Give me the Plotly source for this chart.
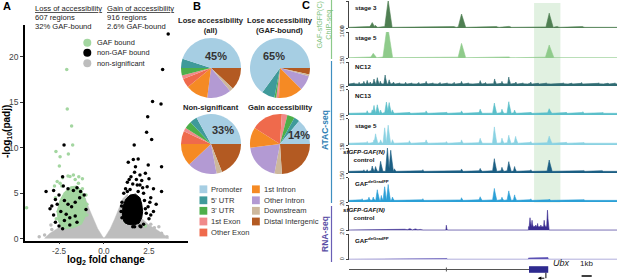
import numpy as np
import plotly.graph_objects as go

W, H = 617, 280
FONT = "Liberation Sans, Arial, sans-serif"


def X(px):
    return px / W


def Y(py):
    return 1 - py / H


# ---------------- Panel A: volcano data ----------------
nonsig_poly_x = [-3.3, -3.0, -2.6, -2.2, -1.8, -1.5, -1.25, -1.05, -0.85, -0.6, -0.35, -0.1, 0.0,
                 0.1, 0.35, 0.6, 0.85, 1.05, 1.3, 1.6, 2.0, 2.5, 3.0, 3.4, 3.6]
nonsig_poly_y = [0.05, 0.6, 1.1, 1.6, 2.4, 3.4, 4.6, 4.5, 3.4, 2.2, 1.1, 0.3, 0.05,
                 0.3, 1.1, 2.2, 3.4, 4.4, 4.9, 3.6, 2.4, 1.5, 0.9, 0.3, 0.05]
nonsig_pts_x = [-3.3, -2.9, 3.2, 3.5, 2.8, -3.6, 2.6, -2.95, 3.05]
nonsig_pts_y = [0.4, 1.0, 0.6, 0.2, 1.2, 0.2, 1.6, 1.5, 1.3]

gaf_poly_x = [-2.3, -2.55, -2.6, -2.45, -2.2, -1.85, -1.5, -1.25, -1.05, -0.95, -1.05, -1.25, -1.7]
gaf_poly_y = [1.1, 2.0, 3.0, 4.2, 5.1, 5.7, 5.8, 5.3, 4.4, 3.4, 2.4, 1.6, 1.2]
gaf_pts_x = [-2.07, -2.04, -1.80, -1.74, -2.67, -2.44, -1.98, -2.48, -2.44, -1.89, -1.60, -1.42,
             -1.20, -1.10, -4.30, -2.6, -2.3, -2.0, -1.7, -1.4, -1.2, -2.75, -2.55, -1.05, -0.95,
             -1.3, 1.1, 1.3, 1.6, 1.9, 1.2, 2.3, 1.45, -2.7, -2.65, -1.0, -0.95, -2.35]
gaf_pts_y = [18.6, 14.25, 12.4, 10.3, 9.6, 9.0, 9.3, 8.0, 6.1, 6.85, 6.5, 6.1,
             5.5, 4.0, 3.4, 6.3, 6.7, 6.9, 7.0, 6.8, 6.6, 5.8, 3.0, 3.2, 2.6,
             1.9, 3.0, 2.5, 2.0, 2.2, 1.9, 1.4, 2.9, 4.5, 2.2, 4.8, 3.8, 5.8]

nongaf_poly_x = [1.1, 1.02, 1.05, 1.2, 1.45, 1.75, 2.0, 2.1, 2.15, 2.1, 1.95, 1.65, 1.3]
nongaf_poly_y = [1.9, 2.6, 3.5, 4.3, 4.8, 4.9, 4.5, 3.8, 3.0, 2.3, 1.7, 1.5, 1.6]
nongaf_pts_x = [3.57, 3.26, 2.70, 3.17, 2.43, 2.37, 2.65, 1.68, 1.35, 1.63, 1.90, 2.46, 3.20, 1.75,
                1.70, 2.00, 2.30, 1.50, 1.80, 2.10, 2.50, 1.30, 1.60, 2.00, 2.40, 2.75, 3.20, 1.20,
                1.45, 1.90, 2.20, 2.60, 2.90, 2.45, 2.35, 2.50, 2.20, 1.00, 0.95, 1.00, 2.00, 1.60,
                2.75, 1.1, 2.6, 2.15, 1.4, 1.85, 2.55, 2.25, 2.3, 1.25, 0.98, 2.05, 1.7, 1.3,
                -2.22, -2.30, -3.22, -2.80, -2.26, -2.00, -1.70, -1.50, -1.30, -2.50, -2.70, -2.90,
                -3.00, -2.60, -2.20, -2.00, -1.80, -1.60, -1.35, -1.10, -2.40, -2.10, -1.90, -1.60,
                -2.20, -2.70, -2.50, -2.30, -1.50, -1.90, -2.80, -1.0]
nongaf_pts_y = [22.5, 18.6, 15.1, 14.8, 13.4, 11.7, 10.9, 10.3, 8.4, 8.7, 8.75, 8.1, 7.9, 7.9,
                7.3, 7.0, 7.2, 6.8, 6.5, 6.4, 6.6, 6.2, 6.0, 5.9, 5.7, 5.5, 5.2, 5.5,
                5.4, 5.2, 5.0, 4.5, 3.8, 3.5, 2.8, 2.2, 1.6, 4.0, 3.0, 2.3, 1.4, 1.3,
                3.0, 5.0, 2.6, 5.6, 6.5, 5.9, 4.0, 4.2, 3.3, 1.8, 3.6, 1.3, 1.3, 5.2,
                10.3, 6.8, 5.2, 5.3, 5.8, 5.5, 5.3, 5.6, 5.2, 4.8, 4.3, 3.6,
                3.3, 3.8, 4.2, 3.8, 3.5, 4.0, 4.5, 4.8, 3.0, 2.7, 2.3, 2.5,
                2.0, 1.8, 1.4, 1.1, 1.8, 1.5, 2.6, 3.2]

x_ticks = [-2.5, 0.0, 2.5]
x_ticktext = ["-2.5", "0.0", "2.5"]
y_ticks = [0, 5, 10, 15, 20]

# ---------------- Panel B: pie data ----------------
features = ["Promoter", "5' UTR", "3' UTR", "1st Exon", "Other Exon",
            "1st Intron", "Other Intron", "Downstream", "Distal Intergenic"]
feature_colors = ["#a6cee3", "#3f9a9a", "#4daf4a", "#f08a8a", "#ef6a4c",
                  "#f58a24", "#b39ad3", "#cdb89c", "#b35a22"]
pie_lose_all = [45, 5, 4, 2, 5, 12, 13, 2, 12]
pie_lose_gaf = [65, 7, 1, 1, 0.5, 13, 8, 1, 3.5]
pie_nonsig = [33, 4, 4, 2, 7, 12, 16, 3, 19]
pie_gain = [14, 3, 4, 3, 17, 11, 20, 4, 24]
pie_titles = ["Lose accessibility<br>(all)", "Lose accessibility<br>(GAF-bound)",
              "Non-significant", "Gain accessibility"]
pie_pct = ["45%", "65%", "33%", "14%"]

# ---------------- Panel C: genome tracks (kb positions, peak heights) ----------------
track_names = ["stage 3", "stage 5", "NC12", "NC13", "stage 5",
               "<i>sfGFP-GAF(N)</i><br>control", "GAF<sup>deGradFP</sup>",
               "<i>sfGFP-GAF(N)</i><br>control", "GAF<sup>deGradFP</sup>"]
track_max = [200, 1000, 15, 15, 15, 15, 15, 2, 2]
track_colors = ["#4f7f52", "#8fcb8b", "#2f6b72", "#5bbfca", "#8ad2e2",
                "#1b5e83", "#2ba0d6", "#3a2c91", "#5c52b5"]
track_base = [5, 12, 1.3, 1.0, 1.0, 1.0, 1.0, 0.04, 0.02]

t1_pos = [1.3, 2.0, 2.3, 2.6, 3.87, 5.0, 6.3, 7.5, 9.0, 10.4, 11.13, 12.2, 13.5, 14.6, 15.8, 16.6,
          17.5, 19.8, 20.6, 22.0, 23.1, 24.5, 25.6]
t1_val = [10, 14, 40, 20, 210, 10, 9, 10, 8, 12, 105, 10, 9, 12, 15, 10, 8, 110, 12, 9, 12, 8, 10]
t1_wid = [0.2, 0.25, 0.3, 0.2, 0.35, 0.2, 0.2, 0.2, 0.2, 0.2, 0.35, 0.2, 0.2, 0.2, 0.25, 0.2,
          0.2, 0.35, 0.2, 0.2, 0.2, 0.2, 0.2]

t2_pos = [2.4, 3.8, 6.0, 11.13, 14.5, 15.8, 19.8, 23.0]
t2_val = [180, 1300, 20, 570, 25, 45, 500, 20]
t2_wid = [0.3, 0.45, 0.2, 0.35, 0.2, 0.25, 0.4, 0.2]

t3_pos = [0.5, 1.0, 1.47, 1.8, 2.1, 2.47, 2.8, 3.1, 3.57, 3.97, 4.4, 5.0, 5.6, 6.2, 6.9, 7.63,
          8.3, 9.0, 9.7, 10.4, 11.13, 11.8, 12.97, 13.5, 14.4, 15.13, 15.8, 16.5, 17.2, 17.97,
          18.7, 19.5, 20.3, 21.2, 22.0, 23.0, 23.8, 24.7, 25.6, 26.3]
t3_val = [2, 2.3, 3, 3.5, 2.5, 4.5, 5.2, 3, 7.1, 4, 2.5, 2, 2.3, 2, 2.2, 3,
          2, 2.2, 2, 2.3, 3, 2, 3.5, 2.2, 4.4, 3, 5.6, 2.5, 2, 2.5,
          1.8, 2, 1.6, 2, 1.8, 2.2, 1.7, 2, 1.8, 2]
t3_wid = [0.15] * 40

t4_pos = [1.8, 2.3, 2.47, 2.8, 3.13, 3.7, 3.97, 4.3, 5.97, 7.63, 9.63, 11.13, 12.97, 14.37, 15.13,
          15.8, 16.37, 17.97, 19.8, 21.47, 23.13, 25.1]
t4_val = [2.5, 3, 5.8, 6, 3, 7.6, 7.5, 3, 1.8, 2.5, 1.8, 2.5, 3.5, 7.2, 3.5, 7.8, 3, 1.8, 3.7,
          1.8, 2, 1.6]
t4_wid = [0.15, 0.15, 0.15, 0.18, 0.12, 0.2, 0.18, 0.15, 0.15, 0.15, 0.15, 0.15, 0.18, 0.2, 0.15,
          0.2, 0.15, 0.15, 0.25, 0.15, 0.15, 0.15]

t5_pos = [1.8, 2.47, 2.63, 3.13, 3.53, 3.87, 4.3, 5.97, 7.63, 9.63, 11.13, 12.97, 14.37, 15.13,
          15.8, 16.47, 17.97, 19.8, 21.47, 23.2]
t5_val = [2, 3, 6.5, 3, 10, 11.5, 3, 2.5, 3, 2, 3, 3.9, 10.5, 4, 5.5, 5, 2, 5, 1.8, 1.6]
t5_wid = [0.15, 0.15, 0.18, 0.15, 0.18, 0.2, 0.15, 0.15, 0.15, 0.15, 0.15, 0.18, 0.2, 0.15,
          0.18, 0.18, 0.15, 0.25, 0.15, 0.15]

t6_pos = [1.47, 1.8, 2.3, 2.63, 3.13, 3.8, 4.13, 4.5, 7.3, 9.63, 11.13, 12.97, 14.37, 15.13, 15.8,
          16.37, 17.97, 19.8, 21.47, 23.2, 25.0]
t6_val = [2, 2, 4.2, 4, 7.2, 15, 14, 2.5, 2, 1.5, 2.5, 2.8, 8.8, 3.5, 6.8, 4, 2, 7.8, 1.5, 1.5, 1.5]
t6_wid = [0.12, 0.12, 0.15, 0.15, 0.18, 0.2, 0.2, 0.15, 0.15, 0.12, 0.15, 0.18, 0.2, 0.15, 0.2,
          0.15, 0.15, 0.25, 0.15, 0.15, 0.15]

t7_pos = [1.3, 1.97, 2.4, 2.8, 3.2, 3.53, 3.87, 4.3, 7.3, 9.63, 11.13, 12.97, 14.37, 15.13, 15.8,
          16.37, 17.97, 19.8, 21.47, 23.2]
t7_val = [2, 3, 3, 7.5, 4, 9.6, 11, 3, 2, 1.5, 2.7, 3.3, 8.5, 3, 6.8, 4.5, 2, 1.8, 1.5, 1.5]
t7_wid = [0.12, 0.15, 0.15, 0.18, 0.12, 0.18, 0.18, 0.15, 0.15, 0.12, 0.15, 0.18, 0.2, 0.15, 0.2,
          0.15, 0.15, 0.2, 0.15, 0.15]

t8_pos = [5.5, 5.97, 6.5, 6.97, 9.63, 12.0, 14.13, 17.9, 18.1, 18.47, 18.65, 18.97, 19.3, 19.63, 21.0]
t8_val = [0.1, 0.18, 0.16, 0.12, 0.45, 0.08, 0.1, 1.0, 0.8, 0.45, 0.55, 0.45, 0.8, 1.68, 0.06]
t8_wid = [0.3, 0.3, 0.3, 0.3, 0.06, 0.2, 0.15, 0.12, 0.1, 0.12, 0.1, 0.1, 0.1, 0.1, 0.2]
t8_blocks = [(17.75, 19.7, 0.3)]

t9_pos = [9.63, 18.0, 19.63]
t9_val = [0.1, 0.15, 0.2]
t9_wid = [0.06, 0.1, 0.08]
t9_blocks = [(17.75, 19.7, 0.12)]

track_peaks = [(t1_pos, t1_val, t1_wid, []), (t2_pos, t2_val, t2_wid, []),
               (t3_pos, t3_val, t3_wid, []), (t4_pos, t4_val, t4_wid, []),
               (t5_pos, t5_val, t5_wid, []), (t6_pos, t6_val, t6_wid, []),
               (t7_pos, t7_val, t7_wid, []), (t8_pos, t8_val, t8_wid, t8_blocks),
               (t9_pos, t9_val, t9_wid, t9_blocks)]
# track vertical extents (pixels, layout)
track_top = [1, 32, 62, 89.5, 118.5, 148, 177.5, 205, 234]
track_bot = [28, 58, 86, 115, 145, 173, 202, 230.5, 259.5]

region_kb = [0, 26.5]
highlight_kb = [18.3, 20.9]
gene_intron_kb = [0.0, 17.8]
gene_small_exon_kb = 9.63
gene_exon_kb = [17.8, 19.7]
gene_tss_kb = 19.47
scale_bar_kb = [23.0, 24.0]

# ---------------------------------------------------------------------------
fig = go.Figure()

# Panel A traces
fig.add_trace(go.Scatter(x=nonsig_poly_x + [nonsig_poly_x[0]], y=nonsig_poly_y + [nonsig_poly_y[0]],
                         fill="toself", fillcolor="#bdbdbd", mode="lines",
                         line=dict(width=0.5, color="#bdbdbd"), xaxis="x", yaxis="y",
                         showlegend=False, hoverinfo="skip"))
fig.add_trace(go.Scatter(x=nonsig_pts_x, y=nonsig_pts_y, mode="markers",
                         marker=dict(size=3.5, color="#bdbdbd"), xaxis="x", yaxis="y",
                         showlegend=False, hoverinfo="skip"))
fig.add_trace(go.Scatter(x=gaf_poly_x + [gaf_poly_x[0]], y=gaf_poly_y + [gaf_poly_y[0]],
                         fill="toself", fillcolor="#a3d6a0", mode="lines",
                         line=dict(width=1, color="#a3d6a0"), xaxis="x", yaxis="y",
                         showlegend=False, hoverinfo="skip"))
fig.add_trace(go.Scatter(x=gaf_pts_x, y=gaf_pts_y, mode="markers",
                         marker=dict(size=3.5, color="#a3d6a0"), xaxis="x", yaxis="y",
                         showlegend=False, hoverinfo="skip"))
fig.add_trace(go.Scatter(x=nongaf_poly_x + [nongaf_poly_x[0]], y=nongaf_poly_y + [nongaf_poly_y[0]],
                         fill="toself", fillcolor="black", mode="lines",
                         line=dict(width=1, color="black"), xaxis="x", yaxis="y",
                         showlegend=False, hoverinfo="skip"))
fig.add_trace(go.Scatter(x=nongaf_pts_x, y=nongaf_pts_y, mode="markers",
                         marker=dict(size=3.5, color="black"), xaxis="x", yaxis="y",
                         showlegend=False, hoverinfo="skip"))

# Panel B pies
pie_centers = [(211, 68), (280, 68), (211, 144), (280, 144)]
pie_r = 30
for vals, (cx, cy) in zip([pie_lose_all, pie_lose_gaf, pie_nonsig, pie_gain], pie_centers):
    fig.add_trace(go.Pie(values=vals[::-1], labels=features[::-1], sort=False,
                         direction="clockwise", rotation=90, textinfo="none",
                         marker=dict(colors=feature_colors[::-1], line=dict(width=0)),
                         domain=dict(x=[X(cx - pie_r), X(cx + pie_r)], y=[Y(cy + pie_r), Y(cy - pie_r)]),
                         showlegend=False, hoverinfo="skip"))

# Panel C tracks
grid = np.linspace(region_kb[0], region_kb[1], 2121)
for i, (pos, val, wid, blocks) in enumerate(track_peaks):
    prof = np.full_like(grid, track_base[i], dtype=float)
    for p, v, w in zip(pos, val, wid):
        prof = np.maximum(prof, v * np.clip(1 - np.abs(grid - p) / w, 0, None))
    for a, b, v in blocks:
        prof = np.where((grid >= a) & (grid <= b), np.maximum(prof, v), prof)
    n = i + 2
    fig.add_trace(go.Scatter(x=grid, y=prof, mode="lines", fill="tozeroy",
                             fillcolor=track_colors[i], line=dict(color=track_colors[i], width=0.6),
                             xaxis=f"x{n}", yaxis=f"y{n}", showlegend=False, hoverinfo="skip"))

layout = dict(
    width=W, height=H, margin=dict(l=0, r=0, t=0, b=0, pad=0, autoexpand=False),
    paper_bgcolor="white", plot_bgcolor="rgba(0,0,0,0)",
    font=dict(family=FONT, color="#222"),
    xaxis=dict(domain=[X(25), X(188)], range=[-4.39, 4.67], showgrid=False, zeroline=False,
               showline=True, linecolor="black", linewidth=1.5, ticks="outside", ticklen=2,
               tickcolor="#333", tickvals=x_ticks, ticktext=x_ticktext, automargin=False,
               tickfont=dict(size=8.2, color="#444"), anchor="y"),
    yaxis=dict(domain=[Y(240.5), Y(25)], range=[-0.2, 23.5], showgrid=False, zeroline=False,
               showline=True, linecolor="black", linewidth=1.5, ticks="outside", ticklen=3,
               tickcolor="#333", tickvals=y_ticks, tickfont=dict(size=8.5, color="#444"),
               anchor="x", automargin=False),
)
for i in range(9):
    n = i + 2
    layout[f"xaxis{n}"] = dict(domain=[X(349), 1.0], range=region_kb, visible=False,
                               anchor=f"y{n}", fixedrange=True, automargin=False)
    layout[f"yaxis{n}"] = dict(domain=[Y(track_bot[i]), Y(track_top[i])], range=[0, track_max[i]],
                               anchor=f"x{n}", showgrid=False, zeroline=False, showline=True,
                               linecolor="#444", linewidth=0.8, ticks="outside", ticklen=2,
                               tickcolor="#444", tickvals=[0, track_max[i]], tickangle=-90,
                               tickfont=dict(size=5.5, color="#333"), automargin=False)
fig.update_layout(**layout)

ann = []
shapes = []


def txt(x, y, s, size=8, bold=False, color="#222", xanchor="left", yanchor="middle",
        angle=0, italic=False, align="left"):
    if bold:
        s = f"<b>{s}</b>"
    if italic:
        s = f"<i>{s}</i>"
    ann.append(dict(x=X(x), y=Y(y), xref="paper", yref="paper", text=s, showarrow=False,
                    font=dict(size=size, color=color, family=FONT), xanchor=xanchor,
                    yanchor=yanchor, textangle=angle, align=align))


# Panel letters
txt(1, 5.5, "A", 11, True, "black")
txt(191, 5.5, "B", 11, True, "black")
txt(300, 5, "C", 11, True, "black")

# Panel A header
txt(33, 8, "<u>Loss of accessibility</u>", 7.6)
txt(33, 17, "607 regions", 7.6)
txt(33, 26, "32% GAF-bound", 7.6)
txt(104.5, 8, "<u>Gain of accessibility</u>", 7.6)
txt(104.5, 17, "916 regions", 7.6)
txt(104.5, 26, "2.6% GAF-bound", 7.6)

# Panel A legend
leg = [("GAF bound", "#a3d6a0", 42.7), ("non-GAF bound", "black", 52.7), ("non-significant", "#bdbdbd", 63.3)]
for lab, col, yy in leg:
    shapes.append(dict(type="circle", xref="paper", yref="paper", x0=X(87.3 - 4), x1=X(87.3 + 4),
                       y0=Y(yy + 4), y1=Y(yy - 4), fillcolor=col, line=dict(width=0)))
    txt(94.5, yy, lab, 7.4)

# Panel A axis titles
txt(7, 132, "-log<sub>10</sub>(padj)", 10, True, "black", xanchor="center", angle=-90)
txt(106, 260, "log<sub>2</sub> fold change", 10, True, "black", xanchor="center")

# Panel B titles and percentages
title_pos = [(211, 25.5), (280, 25.5), (211, 107.7), (280, 107.7)]
for (tx, ty), t in zip(title_pos, pie_titles):
    txt(tx, ty, t, 7.6, True, "#222", xanchor="center", align="center")
pct_pos = [(216.5, 55.7), (274, 55.7), (223, 130), (299, 135)]
for (tx, ty), t in zip(pct_pos, pie_pct):
    txt(tx, ty, t, 11, True, "#333", xanchor="center")

# Panel B legend
leg_rows = [189.3, 200.3, 210.8, 221.5, 232.5]
for k, (lab, col) in enumerate(zip(features, feature_colors)):
    if k < 5:
        sx, sy = 199.5, leg_rows[k]
    else:
        sx, sy = 252, leg_rows[k - 5]
    shapes.append(dict(type="rect", xref="paper", yref="paper", x0=X(sx), x1=X(sx + 7.8),
                       y0=Y(sy + 3.9), y1=Y(sy - 3.9), fillcolor=col, line=dict(width=0)))
    txt(sx + 9.5, sy, lab, 7.6, color="#333")

# Panel C group labels and bars
txt(323.5, 25, "GAF-sfGFP(C)<br>ChIP-seq", 7.2, False, "#7dbf7b", xanchor="center", angle=-90,
    align="center")
shapes.append(dict(type="line", xref="paper", yref="paper", x0=X(331.5), x1=X(331.5), y0=Y(0), y1=Y(59),
                   line=dict(color="#8cc98a", width=1.2)))
txt(325, 130, "ATAC-seq", 8.5, True, "#2f7fb5", xanchor="center", angle=-90)
shapes.append(dict(type="line", xref="paper", yref="paper", x0=X(331.5), x1=X(331.5), y0=Y(61), y1=Y(203),
                   line=dict(color="#3f8fc0", width=1.2)))
txt(325, 234, "RNA-seq", 8.5, True, "#5a4ea5", xanchor="center", angle=-90)
shapes.append(dict(type="line", xref="paper", yref="paper", x0=X(331.5), x1=X(331.5), y0=Y(206), y1=Y(262),
                   line=dict(color="#6a5fb5", width=1.2)))

# Track labels
track_label_y = [7, 38, 66.7, 95, 126, 155, 183.3, 213, 240]
for i, (nm, ly) in enumerate(zip(track_names, track_label_y)):
    if "<br>" in nm:
        txt(364, ly, nm, 6.2, True, "#111", xanchor="center", align="center")
    else:
        txt(352.5, ly, nm, 6.2, True, "#111")

# Highlight region
shapes.append(dict(type="rect", xref="x2", yref="paper", x0=highlight_kb[0], x1=highlight_kb[1],
                   y0=Y(202.5), y1=Y(3), fillcolor="rgba(170,215,170,0.35)", line=dict(width=0),
                   layer="below"))

# Gene model (Ubx)
gx = "x10"
shapes.append(dict(type="line", xref=gx, yref="paper", x0=gene_intron_kb[0] - 0.4, x1=gene_intron_kb[1],
                   y0=Y(269.5), y1=Y(269.5), line=dict(color="#555", width=1)))
shapes.append(dict(type="line", xref=gx, yref="paper", x0=gene_small_exon_kb, x1=gene_small_exon_kb,
                   y0=Y(267.5), y1=Y(271.5), line=dict(color="#555", width=1)))
shapes.append(dict(type="rect", xref=gx, yref="paper", x0=gene_exon_kb[0], x1=gene_exon_kb[1],
                   y0=Y(272.8), y1=Y(266.2), fillcolor="#2e2a8f", line=dict(width=0)))
shapes.append(dict(type="line", xref=gx, yref="paper", x0=gene_tss_kb, x1=gene_tss_kb,
                   y0=Y(272.8), y1=Y(278.2), line=dict(color="black", width=1)))
ann.append(dict(x=gene_tss_kb - 0.8, y=Y(278.2), ax=8, ay=0, xref=gx, yref="paper",
                showarrow=True, arrowhead=2, arrowsize=0.7, arrowwidth=1,
                arrowcolor="black", text=""))
ann.append(dict(x=gene_exon_kb[1] + 0.25, y=Y(269.5), xref=gx, yref="paper", text="<i>Ubx</i>",
                showarrow=False, xanchor="left", font=dict(size=9, color="#222", family=FONT)))
shapes.append(dict(type="line", xref=gx, yref="paper", x0=scale_bar_kb[0], x1=scale_bar_kb[1],
                   y0=Y(276), y1=Y(276), line=dict(color="black", width=1.5)))
ann.append(dict(x=(scale_bar_kb[0] + scale_bar_kb[1]) / 2, y=Y(269.5), xref=gx, yref="paper",
                text="1kb", showarrow=False, xanchor="center",
                font=dict(size=8, color="#222", family=FONT)))

fig.update_layout(annotations=ann, shapes=shapes)
fig.write_html("out.html", config={"displayModeBar": False},
               post_script="document.body.style.margin='0';document.body.style.padding='0';"
                           "document.body.style.overflow='hidden';")
